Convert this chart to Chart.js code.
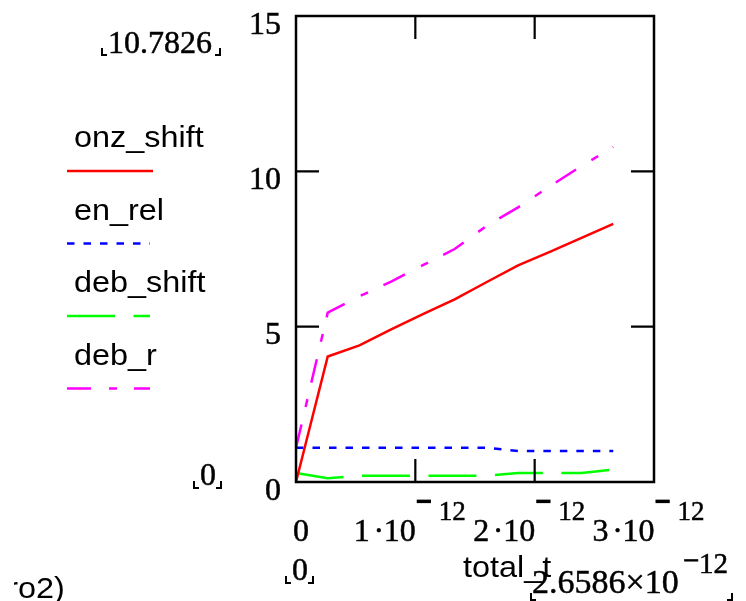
<!DOCTYPE html>
<html>
<head>
<meta charset="utf-8">
<title>onz_shift / en_rel / deb_shift / deb_r vs total_t</title>
<script src="https://cdn.jsdelivr.net/npm/chart.js@4/dist/chart.umd.min.js"></script>
<style>
    html, body { margin: 0; padding: 0; background: #fff; }
    #wrap { width: 746px; height: 601px; }
</style>
</head>
<body>
<div id="wrap"><canvas id="plot" width="746" height="601"></canvas></div>
<script>
// time axis samples (s)
const totalT = [0, 2.6586e-13, 5.3172e-13, 7.9758e-13, 1.06344e-12, 1.3293e-12,
    1.59516e-12, 1.86102e-12, 2.12688e-12, 2.39274e-12, 2.6586e-12];

const onzShift = [0, 4.04, 4.40, 4.91, 5.40, 5.88, 6.43, 6.97, 7.41, 7.86, 8.31];
const enRel    = [1.1, 1.1, 1.1, 1.1, 1.1, 1.1, 1.1, 1.0, 1.0, 1.0, 1.0];
const debShift = [0.29, 0.12, 0.2, 0.2, 0.2, 0.2, 0.2, 0.29, 0.29, 0.29, 0.40];
const debR     = [1.1, 5.45, 5.98, 6.45, 6.98, 7.5, 8.24, 8.84, 9.52, 10.17, 10.7826];

const yTicks = [0, 5, 10, 15];
const xTicks = [0, 1e-12, 2e-12, 3e-12];
const xTickMantissa = ['0', '1', '2', '3'];

// range markers shown at the corners of the plot
const yMaxLabel = '10.7826';
const yMinLabel = '0';
const xMinLabel = '0';
const xMaxMantissa = '2.6586\u00d710';
const xMaxExp = '12';
const xName = 'total_t';

const seriesNames = ['onz_shift', 'en_rel', 'deb_shift', 'deb_r'];
const seriesColors = ['#ff0000', '#0000ff', '#00ff00', '#ff00ff'];
const seriesDash = [[], [7.5, 9], [48, 18.5], [24, 18, 8, 17]];
const seriesData = [onzShift, enRel, debShift, debR];

const SERIF = '"Liberation Serif", "Times New Roman", serif';
const SANS = '"Liberation Sans", Arial, sans-serif';

function sansText(ctx, str, x, y) {
    ctx.save();
    ctx.translate(x, y);
    ctx.scale(1.08, 1);
    ctx.font = '30px ' + SANS;
    ctx.textAlign = 'left';
    ctx.textBaseline = 'alphabetic';
    ctx.fillText(str, 0, 0);
    ctx.restore();
}

// serif text, slightly heavier like the old screen font
function serifText(ctx, str, x, y, size, align) {
    ctx.save();
    ctx.font = size + 'px ' + SERIF;
    ctx.textAlign = align || 'left';
    ctx.textBaseline = 'alphabetic';
    ctx.lineWidth = 0.5;
    ctx.strokeStyle = '#000';
    ctx.fillText(str, x, y);
    ctx.strokeText(str, x, y);
    ctx.restore();
}

function minusSign(ctx, x, y, size, weight) {
    ctx.save();
    ctx.font = size + 'px ' + SERIF;
    ctx.textAlign = 'left';
    ctx.lineWidth = weight;
    ctx.strokeStyle = '#000';
    ctx.fillText('\u2212', x, y);
    ctx.strokeText('\u2212', x, y);
    ctx.restore();
}

// little corner marks around a range value
function corners(ctx, x1, x2, yb) {
    ctx.save();
    ctx.lineWidth = 2;
    ctx.strokeStyle = '#000';
    ctx.setLineDash([]);
    ctx.beginPath();
    ctx.moveTo(x1, yb - 7); ctx.lineTo(x1, yb); ctx.lineTo(x1 + 5, yb);
    ctx.moveTo(x2, yb - 7); ctx.lineTo(x2, yb); ctx.lineTo(x2 - 5, yb);
    ctx.stroke();
    ctx.restore();
}

const framePlugin = {
    id: 'mathcadFrame',
    afterDatasetsDraw(chart) {
        const ctx = chart.ctx;
        const xs = chart.scales.x;
        const ys = chart.scales.y;
        const { left, right, top, bottom } = chart.chartArea;

        ctx.save();
        ctx.strokeStyle = '#000';
        ctx.fillStyle = '#000';
        ctx.setLineDash([]);

        // box
        ctx.lineWidth = 2.5;
        ctx.strokeRect(left, top, right - left, bottom - top);

        // inner ticks on all four sides
        ctx.lineWidth = 2.2;
        ctx.beginPath();
        xTicks.slice(1, -1).forEach(v => {
            const px = xs.getPixelForValue(v);
            ctx.moveTo(px, bottom); ctx.lineTo(px, bottom - 23);
            ctx.moveTo(px, top); ctx.lineTo(px, top + 23);
        });
        yTicks.slice(1, -1).forEach(v => {
            const py = ys.getPixelForValue(v);
            ctx.moveTo(left, py); ctx.lineTo(left + 23, py);
            ctx.moveTo(right, py); ctx.lineTo(right - 23, py);
        });
        ctx.stroke();

        // y tick labels
        yTicks.forEach(v => {
            serifText(ctx, String(v), left - 15, ys.getPixelForValue(v) + 17.5, 32, 'right');
        });

        // x tick labels
        xTicks.forEach((v, i) => {
            const px = xs.getPixelForValue(v);
            if (v === 0) {
                serifText(ctx, xTickMantissa[i], px + 5, 541, 32, 'center');
                return;
            }
            const x0 = px - 61.5;
            serifText(ctx, xTickMantissa[i], x0, 541, 32);
            serifText(ctx, '\u00b7', x0 + 25, 541, 32, 'center');
            serifText(ctx, '10', x0 + 30, 541, 32);
            minusSign(ctx, x0 + 63, 510, 26, 2.2);
            serifText(ctx, '12', x0 + 85, 520, 27);
        });

        // legend
        seriesNames.forEach((name, i) => {
            const ty = 147 + i * 72.7;
            const ly = 171 + i * 72.5;
            ctx.fillStyle = '#000';
            sansText(ctx, name, 74, ty);
            ctx.save();
            ctx.strokeStyle = seriesColors[i];
            ctx.lineWidth = 2.5;
            ctx.setLineDash(seriesDash[i]);
            ctx.beginPath();
            ctx.moveTo(67, ly);
            ctx.lineTo(i === 0 ? 153 : 150, ly);
            ctx.stroke();
            ctx.restore();
        });

        // range markers
        ctx.fillStyle = '#000';
        serifText(ctx, yMaxLabel, 108, 53, 32);
        corners(ctx, 102, 220, 55);
        serifText(ctx, yMinLabel, 200, 485, 32);
        corners(ctx, 194, 221, 488);
        serifText(ctx, xMinLabel, 292, 580, 32);
        corners(ctx, 286, 313, 583);

        sansText(ctx, xName, 463, 577);

        serifText(ctx, xMaxMantissa, 532, 593, 34);
        minusSign(ctx, 683, 570, 29, 0.6);
        serifText(ctx, xMaxExp, 699, 573, 29);
        corners(ctx, 531, 732, 600);

        // tail of an expression cut by the left edge
        ctx.save();
        ctx.beginPath();
        ctx.rect(14, 540, 100, 61);
        ctx.clip();
        ctx.font = '30px ' + SANS;
        const rw = ctx.measureText('r').width * 1.08;
        sansText(ctx, 'ro2)', 18 - rw, 598);
        ctx.restore();

        ctx.restore();
    }
};

const ctx = document.getElementById('plot').getContext('2d');

new Chart(ctx, {
    type: 'line',
    data: {
        datasets: seriesNames.map((name, i) => ({
            label: name,
            data: totalT.map((t, k) => ({ x: t, y: seriesData[i][k] })),
            borderColor: seriesColors[i],
            borderWidth: 2.5,
            borderDash: seriesDash[i],
            pointRadius: 0,
            tension: 0,
            fill: false,
            clip: false
        }))
    },
    options: {
        responsive: false,
        animation: false,
        devicePixelRatio: 1,
        layout: { padding: { left: 296, right: 92, top: 16, bottom: 119 } },
        plugins: {
            legend: { display: false },
            tooltip: { enabled: false }
        },
        scales: {
            x: { type: 'linear', min: 0, max: 3e-12, display: false },
            y: { type: 'linear', min: 0, max: 15, display: false }
        }
    },
    plugins: [framePlugin]
});
</script>
</body>
</html>
